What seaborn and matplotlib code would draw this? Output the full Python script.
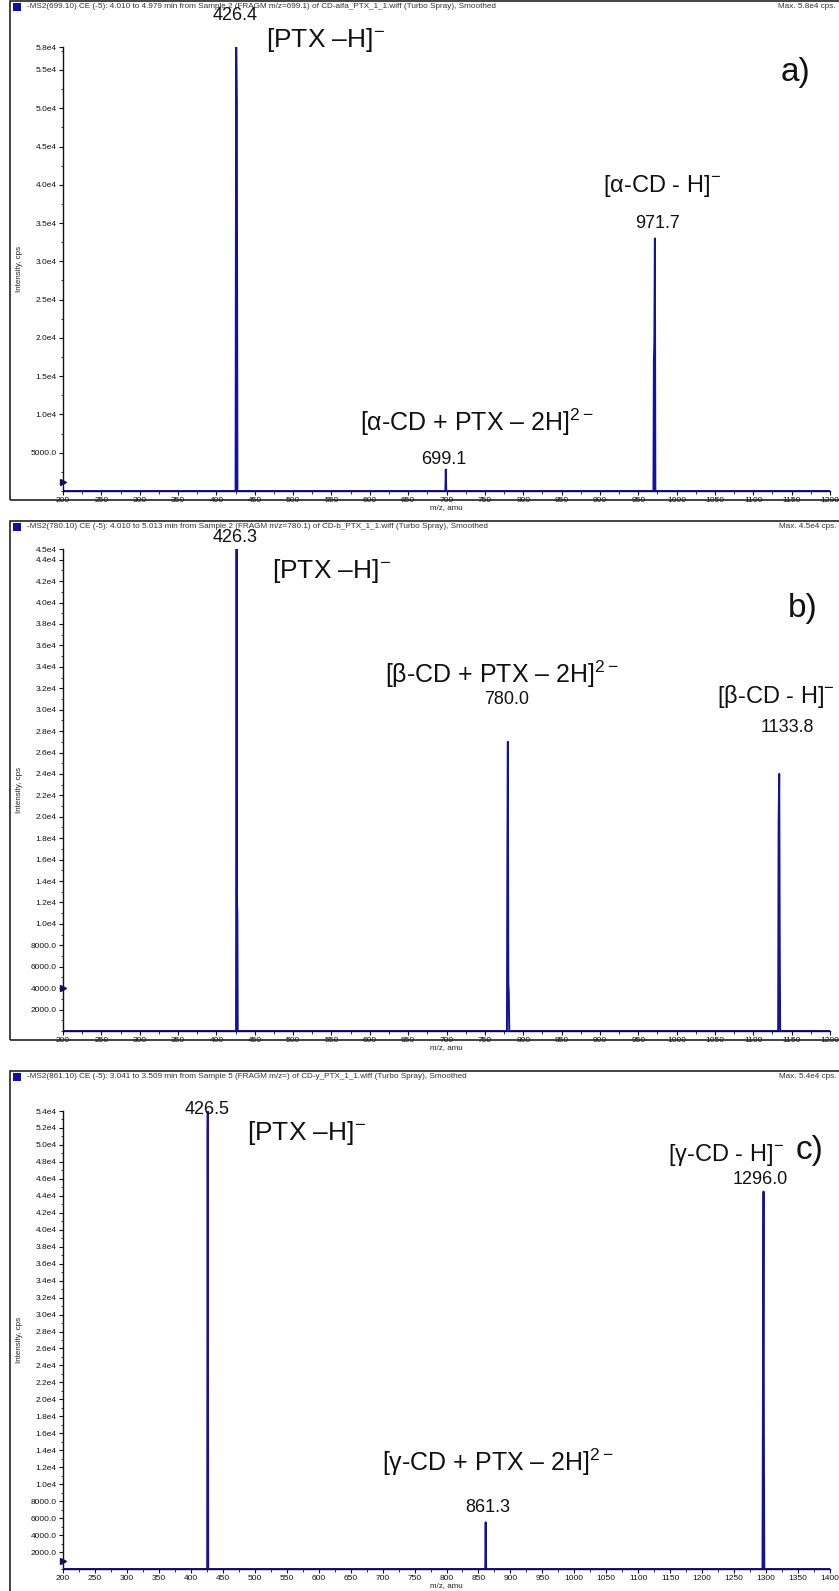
import numpy as np
import pandas as pd
import seaborn as sns
import matplotlib
matplotlib.use("Agg")
import matplotlib.pyplot as plt
from matplotlib.patches import Rectangle
from matplotlib.ticker import MultipleLocator

# ---------------- data ----------------
mz_a = [200, 425.0, 425.8, 426.6, 427.4, 698.5, 699.1, 699.7, 969.8, 970.4, 971.0, 971.7, 972.3, 1200]
int_a = [0, 0, 58000, 50500, 0, 0, 2800, 0, 0, 17000, 19500, 33000, 0, 0]

mz_b = [200, 425.6, 426.3, 426.8, 427.3, 427.8, 778.8, 779.4, 780.0, 780.6, 781.2, 781.8,
        1132.4, 1133.0, 1133.8, 1134.4, 1135.0, 1200]
int_b = [0, 0, 45000, 12000, 11000, 0, 0, 17000, 27000, 4500, 3500, 0,
         0, 19500, 24000, 9000, 0, 0]

mz_c = [200, 425.6, 426.2, 426.5, 427.2, 860.6, 861.3, 862.0, 1294.4, 1295.2, 1296.0, 1296.6, 1297.2, 1400]
int_c = [0, 0, 51500, 54000, 0, 0, 5500, 0, 0, 23500, 44500, 14500, 0, 0]

xlims = [(200, 1200), (200, 1200), (200, 1400)]
ymax = [58000, 45000, 54000]
ystep = [5000, 2000, 2000]
top_labels = ["5.8e4", "4.5e4", "5.4e4"]
marker_levels = [1200, 4000, 1000]

headers = [
    "-MS2(699.10) CE (-5): 4.010 to 4.979 min from Sample 2 (FRAGM m/z=699.1) of CD-alfa_PTX_1_1.wiff (Turbo Spray), Smoothed",
    "-MS2(780.10) CE (-5): 4.010 to 5.013 min from Sample 2 (FRAGM m/z=780.1) of CD-b_PTX_1_1.wiff (Turbo Spray), Smoothed",
    "-MS2(861.10) CE (-5): 3.041 to 3.509 min from Sample 5 (FRAGM m/z=) of CD-y_PTX_1_1.wiff (Turbo Spray), Smoothed",
]
max_texts = ["Max. 5.8e4 cps.", "Max. 4.5e4 cps.", "Max. 5.4e4 cps."]

# annotations: (text, x_px, y_px, fontsize, ha)
annots = [
    [("426.4", 235, 16, 13, "center"),
     ("[PTX –H]$^{-}$", 266, 40, 19, "left"),
     ("a)", 795, 72, 24, "center"),
     ("[α-CD - H]$^{-}$", 662, 186, 17, "center"),
     ("971.7", 657, 224, 13, "center"),
     ("[α-CD + PTX – 2H]$^{2-}$", 477, 422, 18, "center"),
     ("699.1", 444, 460, 13, "center")],
    [("426.3", 235, 537, 13, "center"),
     ("[PTX –H]$^{-}$", 272, 571, 19, "left"),
     ("b)", 803, 608, 24, "center"),
     ("[β-CD + PTX – 2H]$^{2-}$", 502, 674, 18, "center"),
     ("780.0", 507, 699, 13, "center"),
     ("[β-CD - H]$^{-}$", 776, 697, 17, "center"),
     ("1133.8", 787, 728, 13, "center")],
    [("426.5", 207, 1109, 13, "center"),
     ("[PTX –H]$^{-}$", 247, 1133, 19, "left"),
     ("c)", 810, 1150, 24, "center"),
     ("[γ-CD - H]$^{-}$", 726, 1155, 17, "center"),
     ("1296.0", 760, 1180, 13, "center"),
     ("[γ-CD + PTX – 2H]$^{2-}$", 498, 1462, 18, "center"),
     ("861.3", 488, 1507, 13, "center")],
]

data = [(mz_a, int_a), (mz_b, int_b), (mz_c, int_c)]

# ---------------- style ----------------
sns.set_theme(style="white")
plt.rcParams['font.family'] = ['Liberation Sans', 'DejaVu Sans']
plt.rcParams['mathtext.fontset'] = 'custom'
plt.rcParams['mathtext.rm'] = 'Liberation Sans'
plt.rcParams['mathtext.it'] = 'Liberation Sans:italic'
plt.rcParams['mathtext.bf'] = 'Liberation Sans:bold'

W, H = 839, 1591
fig = plt.figure(figsize=(W / 100, H / 100), dpi=100)
fig.patch.set_facecolor("white")

LINE = "#12129a"

boxes = [(10, 1, 845, 500), (10, 521, 845, 1040), (10, 1071, 845, 1600)]
axes_px = [(63, 47, 830, 491), (63, 549, 830, 1031), (63, 1111, 830, 1569)]


def frac_rect(l, t, r, b):
    return [l / W, 1 - b / H, (r - l) / W, (b - t) / H]


for i in range(3):
    bl, bt, br, bb = boxes[i]
    fig.patches.append(Rectangle((bl / W, 1 - bb / H), (br - bl) / W, (bb - bt) / H,
                                 transform=fig.transFigure, fill=False,
                                 edgecolor="#222222", lw=1.2))
    fig.patches.append(Rectangle((13 / W, 1 - (bt + 10) / H), 8 / W, 8 / H,
                                 transform=fig.transFigure, facecolor="#1010a0",
                                 edgecolor="none"))
    fig.text(27 / W, 1 - (bt + 6) / H, headers[i], fontsize=5.9, va="center",
             ha="left", color="#333333")
    fig.text(836 / W, 1 - (bt + 6) / H, max_texts[i], fontsize=5.9, va="center",
             ha="right", color="#333333")

    l, t, r, b = axes_px[i]
    ax = fig.add_axes(frac_rect(l, t, r, b))
    mz, inten = data[i]
    df = pd.DataFrame({"mz": mz, "intensity": inten})
    sns.lineplot(data=df, x="mz", y="intensity", ax=ax, color=LINE, lw=1.4,
                 estimator=None, sort=False)
    ax.set_xlim(*xlims[i])
    ax.set_ylim(0, ymax[i])
    for s in ["top", "right"]:
        ax.spines[s].set_visible(False)
    for s in ["left", "bottom"]:
        ax.spines[s].set_color("#111111")
        ax.spines[s].set_linewidth(1.0)

    xt = np.arange(xlims[i][0], xlims[i][1] + 1, 50)
    ax.set_xticks(xt)
    ax.set_xticklabels([str(int(v)) for v in xt])
    ax.xaxis.set_minor_locator(MultipleLocator(25))
    yt = list(np.arange(ystep[i], ymax[i] - ystep[i] * 0.4, ystep[i]))
    ylabels = [f"{v / 1e4:.1f}e4" if v >= 10000 else f"{v:.1f}" for v in yt]
    yt.append(ymax[i])
    ylabels.append(top_labels[i])
    ax.set_yticks(yt)
    ax.set_yticklabels(ylabels)
    ax.yaxis.set_minor_locator(MultipleLocator(ystep[i] / 2))
    ax.tick_params(axis="both", which="major", direction="out", length=3, width=0.8,
                   labelsize=6, pad=1.5, colors="#111111", left=True, bottom=True)
    ax.tick_params(axis="both", which="minor", direction="out", length=1.8, width=0.6,
                   left=True, bottom=True, colors="#111111")
    ax.set_xlabel("m/z, amu", fontsize=5.8, labelpad=0, color="#222222")
    ax.set_ylabel("Intensity, cps", fontsize=5.8, color="#222222")
    ax.yaxis.set_label_coords(-0.052, 0.5)

    ax.plot([xlims[i][0]], [marker_levels[i]], marker=">", ms=5, color="#111155",
            clip_on=False, zorder=5)

    for (txt, xp, yp, fs, ha) in annots[i]:
        fig.text(xp / W, 1 - yp / H, txt, fontsize=fs, ha=ha, va="center",
                 color="#111111")

fig.savefig("out.png", dpi=100, facecolor="white")
